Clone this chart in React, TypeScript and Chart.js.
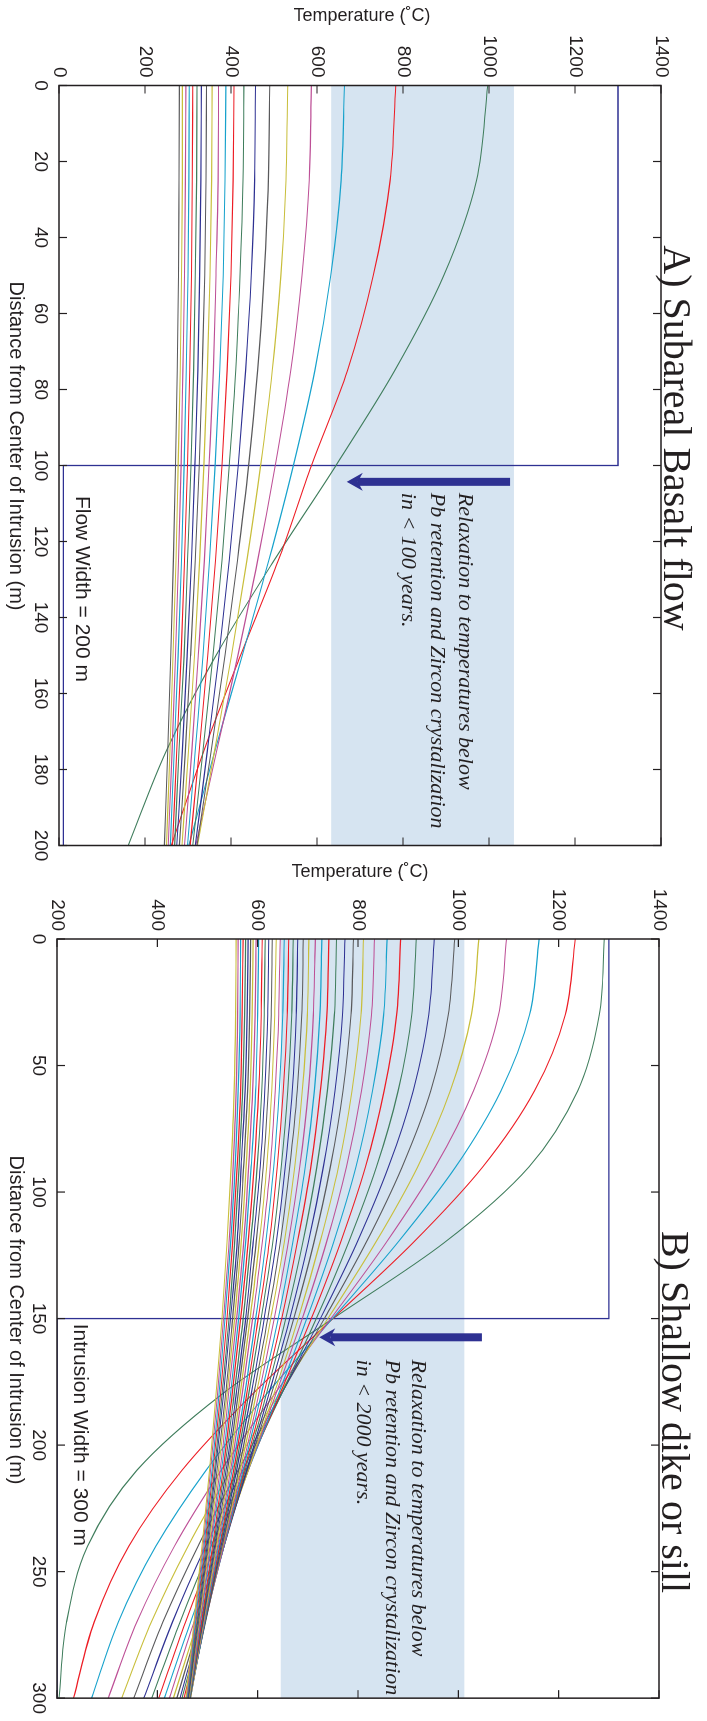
import React, { useEffect, useRef } from 'react';
import { Chart, registerables } from 'chart.js';

Chart.register(...registerables);

const SANS = '"Liberation Sans", Arial, Helvetica, sans-serif';
const SERIF = '"Liberation Serif", "Times New Roman", Times, serif';

// ---------------- Panel A data (distance m, temperature C) ----------------
const DIST_A = [0, 25, 50, 75, 100, 125, 150, 175, 200];
const STEP_A_X = [0, 100, 100, 200];
const STEP_A_Y = [1300, 1300, 10, 10];
const CURVES_A: number[][] = [
  [997, 971, 895, 781, 644, 500, 365, 250, 161],
  [783, 770, 731, 671, 587, 510, 422, 337, 261],
  [664, 656, 632, 595, 545, 488, 426, 363, 302],
  [587, 582, 565, 539, 503, 462, 416, 367, 318],
  [532, 528, 516, 496, 469, 437, 401, 362, 322],
  [490, 487, 477, 462, 441, 415, 386, 354, 321],
  [457, 455, 447, 434, 417, 396, 372, 345, 317],
  [430, 428, 421, 411, 396, 379, 358, 335, 311],
  [407, 405, 400, 391, 379, 364, 346, 326, 305],
  [388, 386, 382, 374, 363, 350, 335, 317, 299],
  [371, 370, 365, 359, 349, 338, 324, 309, 292],
  [356, 355, 351, 345, 337, 327, 315, 301, 286],
  [343, 342, 339, 333, 326, 317, 306, 294, 280],
  [331, 330, 327, 323, 316, 308, 298, 287, 274],
  [321, 320, 317, 313, 307, 299, 291, 279, 269],
  [311, 310, 308, 304, 299, 292, 284, 274, 264],
  [303, 302, 300, 296, 291, 285, 277, 268, 259],
  [295, 294, 292, 288, 284, 278, 271, 263, 254],
  [287, 287, 285, 282, 277, 272, 265, 258, 250],
  [280, 279, 278, 275, 271, 266, 260, 253, 245],
];

// ---------------- Panel B data ----------------
const DIST_B = [0, 30, 60, 90, 120, 150, 180, 210, 240, 270, 300];
const STEP_B_X = [0, 150, 150, 300];
const STEP_B_Y = [1300, 1300, 200, 200];
const CURVES_B: number[][] = [
  [1291, 1281, 1238, 1141, 972, 750, 528, 359, 261, 219, 204],
  [1233, 1213, 1152, 1049, 910, 750, 589, 449, 343, 274, 233],
  [1161, 1142, 1085, 995, 879, 749, 617, 497, 397, 322, 269],
  [1096, 1080, 1030, 954, 856, 746, 633, 527, 434, 359, 302],
  [1041, 1026, 984, 919, 835, 740, 642, 547, 461, 388, 329],
  [993, 980, 945, 888, 816, 733, 646, 561, 481, 411, 353],
  [952, 941, 910, 861, 798, 725, 647, 570, 496, 430, 373],
  [916, 907, 880, 837, 781, 717, 647, 576, 507, 445, 389],
  [885, 877, 852, 815, 765, 707, 644, 579, 515, 456, 403],
  [858, 851, 829, 796, 751, 698, 641, 581, 522, 466, 414],
  [833, 827, 807, 777, 737, 689, 636, 581, 526, 473, 424],
  [811, 806, 788, 761, 724, 681, 632, 581, 529, 480, 432],
  [791, 786, 770, 745, 712, 672, 627, 579, 531, 484, 439],
  [774, 769, 754, 731, 701, 664, 622, 578, 533, 488, 445],
  [757, 753, 739, 718, 690, 656, 617, 575, 533, 490, 449],
  [742, 738, 725, 706, 679, 648, 612, 573, 533, 492, 453],
  [728, 724, 713, 695, 670, 641, 607, 571, 533, 494, 457],
  [715, 711, 701, 684, 661, 633, 602, 568, 532, 495, 459],
  [702, 699, 689, 674, 653, 626, 597, 565, 530, 495, 461],
  [691, 688, 679, 664, 645, 620, 592, 562, 529, 496, 463],
  [680, 677, 669, 655, 637, 613, 587, 558, 527, 495, 464],
  [671, 668, 660, 647, 630, 607, 582, 555, 525, 495, 465],
  [662, 659, 651, 639, 623, 601, 578, 552, 524, 494, 465],
  [653, 650, 643, 632, 616, 596, 574, 549, 522, 494, 466],
  [645, 642, 635, 625, 609, 590, 569, 546, 520, 493, 466],
  [637, 634, 628, 618, 603, 585, 565, 543, 518, 492, 466],
  [629, 627, 621, 611, 597, 580, 561, 540, 516, 491, 465],
  [622, 620, 614, 605, 591, 576, 557, 537, 514, 490, 465],
  [615, 613, 608, 599, 586, 571, 553, 534, 512, 489, 465],
  [609, 607, 602, 593, 581, 566, 549, 531, 510, 488, 464],
  [602, 600, 596, 587, 576, 562, 546, 528, 507, 486, 464],
  [597, 595, 590, 582, 572, 558, 542, 525, 505, 485, 463],
  [591, 589, 585, 577, 567, 554, 539, 522, 503, 483, 463],
  [586, 584, 580, 572, 563, 550, 536, 519, 501, 482, 462],
  [581, 579, 575, 567, 559, 546, 532, 516, 499, 480, 461],
  [576, 574, 570, 563, 554, 543, 529, 514, 497, 479, 460],
  [571, 569, 566, 559, 550, 539, 526, 511, 495, 477, 459],
  [566, 565, 561, 555, 546, 535, 523, 509, 493, 476, 459],
  [561, 560, 557, 551, 543, 532, 520, 506, 491, 474, 458],
  [557, 556, 553, 547, 539, 529, 517, 504, 489, 473, 457],
];

const NOTE_LINES_A = ['Relaxation to temperatures below', 'Pb retention and Zircon crystalization', 'in < 100 years.'];
const NOTE_LINES_B = ['Relaxation to temperatures below', 'Pb retention and Zircon crystalization', 'in < 2000 years.'];

const PALETTE = ['#3f7d5c', '#ed1c24', '#17a2cc', '#bd4f96', '#c8be3a', '#59595b', '#2e3192'];
const INK = '#231f20';
const BAND = '#d6e4f1';
const ARROW = '#2e3192';

type PanelCfg = {
  canvasLeft: number;
  canvasWidth: number;
  padTop: number;
  padRight: number;
  yAxisWidth: number;
  xAxisHeight: number;
  xMax: number;
  xStep: number;
  yMin: number;
  yMax: number;
  dist: number[];
  curves: number[][];
  stepX: number[];
  stepY: number[];
  title: string;
  titleX: number;
  titleY: number;
  yTitleX: number;
  yTitleY: number;
  xTitleX: number;
  xTitleY: number;
  band: number[];
  arrow: { x: number; from: number; to: number };
  notes: string[];
  noteX: number;
  noteY: number[];
  widthNote: string;
  widthNoteX: number;
  widthNoteY: number;
};

const PANEL_A: PanelCfg = {
  canvasLeft: 0,
  canvasWidth: 892,
  padTop: 46,
  padRight: 46.5,
  yAxisWidth: 85.5,
  xAxisHeight: 59,
  xMax: 200,
  xStep: 20,
  yMin: 0,
  yMax: 1400,
  dist: DIST_A,
  curves: CURVES_A,
  stepX: STEP_A_X,
  stepY: STEP_A_Y,
  title: 'A) Subareal Basalt flow',
  titleX: 438,
  titleY: 43,
  yTitleX: 16,
  yTitleY: 345,
  xTitleX: 446,
  xTitleY: 691,
  band: [633, 1058],
  arrow: { x: 104.3, from: 1049, to: 669 },
  notes: NOTE_LINES_A,
  noteX: 107.2,
  noteY: [944, 879, 812],
  widthNote: 'Flow Width = 200 m',
  widthNoteX: 108,
  widthNoteY: 53.5,
};

const PANEL_B: PanelCfg = {
  canvasLeft: 852,
  canvasWidth: 869,
  padTop: 48,
  padRight: 22,
  yAxisWidth: 87,
  xAxisHeight: 57,
  xMax: 300,
  xStep: 50,
  yMin: 200,
  yMax: 1400,
  dist: DIST_B,
  curves: CURVES_B,
  stepX: STEP_B_X,
  stepY: STEP_B_Y,
  title: 'B) Shallow dike or sill',
  titleX: 560,
  titleY: 45,
  yTitleX: 20,
  yTitleY: 347,
  xTitleX: 468,
  xTitleY: 691,
  band: [646, 1012],
  arrow: { x: 157.4, from: 1047, to: 723 },
  notes: NOTE_LINES_B,
  noteX: 166.2,
  noteY: [920, 868, 810],
  widthNote: 'Intrusion Width = 300 m',
  widthNoteX: 152,
  widthNoteY: 246,
};

function decoPlugin(p: PanelCfg) {
  return {
    id: 'deco',
    beforeDatasetsDraw(chart: any) {
      const { ctx, chartArea: a, scales } = chart;
      const y = scales.y;
      const t = y.getPixelForValue(p.band[1]);
      const b = y.getPixelForValue(p.band[0]);
      ctx.save();
      ctx.fillStyle = BAND;
      ctx.fillRect(a.left, t, a.right - a.left, b - t);
      ctx.restore();
    },
    afterDatasetsDraw(chart: any) {
      const { ctx, chartArea: a, scales } = chart;
      const x = scales.x;
      const y = scales.y;
      ctx.save();
      // arrow
      const ax = x.getPixelForValue(p.arrow.x);
      const y0 = y.getPixelForValue(p.arrow.from);
      const y1 = y.getPixelForValue(p.arrow.to);
      ctx.fillStyle = ARROW;
      ctx.fillRect(ax - 4, y0, 8, y1 - 11 - y0);
      ctx.beginPath();
      ctx.moveTo(ax, y1);
      ctx.lineTo(ax - 9, y1 - 16);
      ctx.lineTo(ax, y1 - 11);
      ctx.lineTo(ax + 9, y1 - 16);
      ctx.closePath();
      ctx.fill();
      // notes
      ctx.fillStyle = INK;
      ctx.font = `italic 22px ${SERIF}`;
      ctx.textAlign = 'left';
      ctx.textBaseline = 'middle';
      const nx = x.getPixelForValue(p.noteX);
      p.notes.forEach((s, i) => ctx.fillText(s, nx, y.getPixelForValue(p.noteY[i])));
      ctx.font = `21px ${SANS}`;
      ctx.fillText(p.widthNote, x.getPixelForValue(p.widthNoteX), y.getPixelForValue(p.widthNoteY));
      // box
      ctx.strokeStyle = INK;
      ctx.lineWidth = 1.5;
      ctx.strokeRect(a.left, a.top, a.right - a.left, a.bottom - a.top);
      // inward ticks on all sides
      ctx.lineWidth = 1.2;
      ctx.beginPath();
      x.ticks.forEach((tk: any) => {
        const px = x.getPixelForValue(tk.value);
        ctx.moveTo(px, a.bottom);
        ctx.lineTo(px, a.bottom - 8);
        ctx.moveTo(px, a.top);
        ctx.lineTo(px, a.top + 8);
      });
      y.ticks.forEach((tk: any) => {
        const py = y.getPixelForValue(tk.value);
        ctx.moveTo(a.left, py);
        ctx.lineTo(a.left + 8, py);
        ctx.moveTo(a.right, py);
        ctx.lineTo(a.right - 8, py);
      });
      ctx.stroke();
      ctx.restore();
    },
    afterDraw(chart: any) {
      const { ctx } = chart;
      ctx.save();
      ctx.fillStyle = INK;
      ctx.font = `40px ${SERIF}`;
      ctx.textAlign = 'center';
      ctx.textBaseline = 'alphabetic';
      ctx.fillText(p.title, p.titleX, p.titleY);
      ctx.font = `20px ${SANS}`;
      ctx.textBaseline = 'middle';
      ctx.fillText('Distance from Center of Intrusion (m)', p.xTitleX, p.xTitleY);
      ctx.translate(p.yTitleX, p.yTitleY);
      ctx.rotate(-Math.PI / 2);
      ctx.font = `18px ${SANS}`;
      ctx.fillText('Temperature (\u02DAC)', 0, 0);
      ctx.restore();
    },
  };
}

const plainTick = (v: any) => String(v);

function buildConfig(p: PanelCfg): any {
  const curveSets = p.curves.map((vals, i) => ({
    label: `t${i + 1}`,
    data: p.dist.map((d, j) => ({ x: d, y: vals[j] })),
    borderColor: PALETTE[i % PALETTE.length],
    borderWidth: 1.1,
    pointRadius: 0,
    fill: false,
    cubicInterpolationMode: 'monotone',
    order: 500 - i,
  }));
  const stepSet = {
    label: 'initial',
    data: p.stepX.map((d, j) => ({ x: d, y: p.stepY[j] })),
    borderColor: PALETTE[6],
    borderWidth: 1.3,
    pointRadius: 0,
    fill: false,
    tension: 0,
    order: 1000,
  };
  return {
    type: 'line',
    data: { datasets: [stepSet, ...curveSets] },
    options: {
      animation: false,
      responsive: false,
      devicePixelRatio: 1,
      layout: { padding: { top: p.padTop, right: p.padRight, left: 0, bottom: 0 } },
      plugins: { legend: { display: false }, tooltip: { enabled: false }, title: { display: false } },
      elements: { point: { radius: 0 } },
      scales: {
        x: {
          type: 'linear',
          position: 'bottom',
          min: 0,
          max: p.xMax,
          grid: { display: false, drawTicks: false },
          border: { display: false },
          ticks: {
            stepSize: p.xStep,
            padding: 7,
            color: INK,
            autoSkip: false,
            maxRotation: 0,
            callback: plainTick,
            font: { family: SANS, size: 19 },
          },
          afterFit: (s: any) => {
            s.height = p.xAxisHeight;
          },
        },
        y: {
          type: 'linear',
          position: 'left',
          min: p.yMin,
          max: p.yMax,
          grid: { display: false, drawTicks: false },
          border: { display: false },
          ticks: {
            stepSize: 200,
            padding: 8,
            color: INK,
            autoSkip: false,
            callback: plainTick,
            font: { family: SANS, size: 19 },
          },
          afterFit: (s: any) => {
            s.width = p.yAxisWidth;
          },
        },
      },
    },
    plugins: [decoPlugin(p)],
  };
}

function Panel({ cfg }: { cfg: PanelCfg }) {
  const ref = useRef<HTMLCanvasElement>(null);
  useEffect(() => {
    const chart = new Chart(ref.current as HTMLCanvasElement, buildConfig(cfg));
    return () => chart.destroy();
  }, [cfg]);
  return (
    <canvas
      ref={ref}
      width={cfg.canvasWidth}
      height={707}
      style={{ position: 'absolute', left: cfg.canvasLeft, top: 0, width: cfg.canvasWidth, height: 707 }}
    />
  );
}

export default function App() {
  return (
    <div
      style={{
        position: 'absolute',
        left: 0,
        top: 0,
        width: 1721,
        height: 707,
        background: '#ffffff',
        transformOrigin: '0 0',
        transform: 'translate(707px, 0px) rotate(90deg)',
      }}
    >
      <Panel cfg={PANEL_A} />
      <Panel cfg={PANEL_B} />
    </div>
  );
}
